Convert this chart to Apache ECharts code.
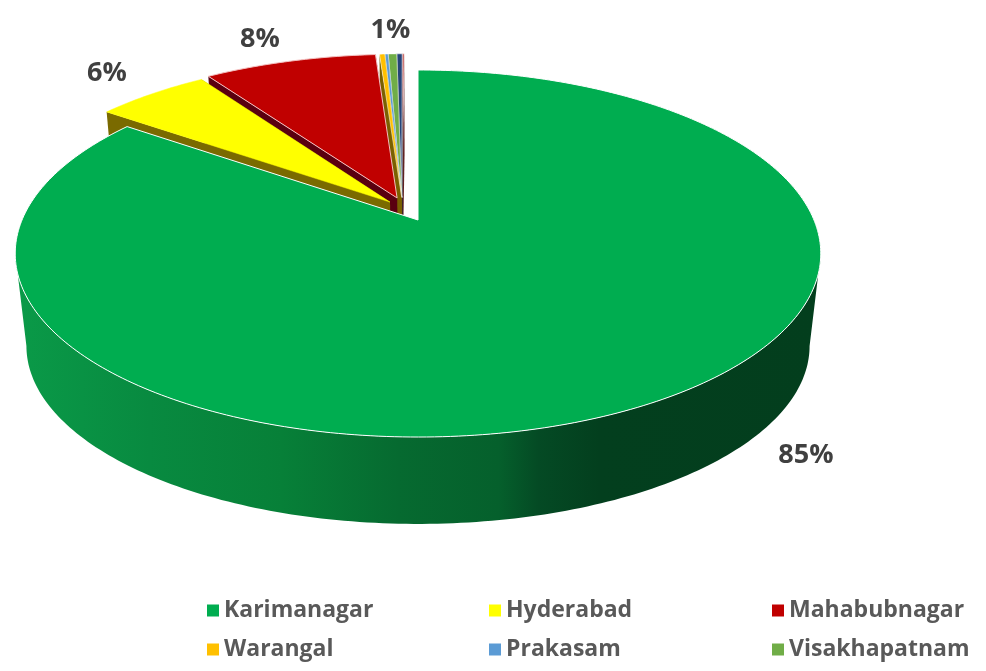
<!DOCTYPE html>
<html><head><meta charset="utf-8">
<style>html,body{margin:0;padding:0;background:#fff}#c{width:986px;height:671px}</style>
<script src="https://cdn.jsdelivr.net/npm/echarts@6/dist/echarts.min.js"></script>
</head><body><div id="c"></div>
<script>
// ---- data ----
const categories = ['Karimanagar','Hyderabad','Mahabubnagar','Warangal','Prakasam','Visakhapatnam','Other A','Other B'];
const shares     = [84.9, 5.5, 8.4, 0.26, 0.16, 0.42, 0.26, 0.10];
const shownLabels = ['85%','6%','8%','','','1%','',''];
const topColors  = ['#00AD50','#FFFF00','#C00000','#FFC000','#5B9BD5','#70AD47','#264478','#C0504D'];
const wallColors = ['#00AD50','#7A6A00','#5A0010','#7A6000','#2E4E6B','#385723','#13223C','#602020'];
const edgeColors = ['#FFFFFF','#FFFF00','#F4C0C0','#FFFFFF','#FFFFFF','#FFFFFF','#FFFFFF','#FFFFFF'];

// ---- geometry of the tilted disc ----
const CX=418, TOP_Y=220, A=396, B=177.4, P=0.1826;
const BOT_Y=313.5, BOT_A=385, BOT_B=172;
const SHIFT=[[0,0],[-0.072,0.103],[-0.054,0.127],[-0.042,0.13],[-0.042,0.13],[-0.042,0.13],[-0.042,0.13],[-0.042,0.13]];
const LABEL_OFF=[[172,47],[-45,-21],[-30,-22],[0,0],[0,0],[-2,-24],[0,0],[0,0]];
const total=shares.reduce((a,b)=>a+b,0);
const starts=[];shares.reduce((s,v,i)=>(starts[i]=s,s+v),0);
const rad=v=>v/total*Math.PI*2;
function proj(t,r,i,bottom){
  const s=SHIFT[i];
  const X=s[0]+r*Math.sin(t), Y=s[1]+r*Math.cos(t), w=1+P*Y;
  return bottom?[CX+BOT_A*X/w,BOT_Y-BOT_B*Y/w]:[CX+A*X/w,TOP_Y-B*Y/w];
}
function rim(a,b,i,bottom){
  const n=Math.max(4,Math.ceil((b-a)*60)),pts=[];
  for(let k=0;k<=n;k++)pts.push(proj(a+(b-a)*k/n,1,i,bottom));
  return pts;
}
function renderSlice(params,api){
  const i=params.seriesIndex;
  const a=rad(starts[i]), b=a+rad(api.value(0));
  const top=rim(a,b,i,false), bot=rim(a,b,i,true);
  const apexT=proj(0,0,i,false), apexB=proj(0,0,i,true);
  const kids=[];
  if(i===0){
    // the visible front wall runs between the two points where the disc is widest
    const f=Math.acos(-P), g=2*Math.PI-f;
    const wallTop=rim(f,g,i,false), wallBot=rim(f,g,i,true);
    kids.push({type:'polygon',shape:{points:wallTop.concat(wallBot.reverse())},
      style:{fill:new echarts.graphic.LinearGradient(0,0,1,0,[
        {offset:0,color:'#0A9A48'},{offset:0.167,color:'#088A40'},{offset:0.33,color:'#078038'},
        {offset:0.477,color:'#066A30'},{offset:0.6,color:'#05602C'},{offset:0.65,color:'#044A24'},
        {offset:0.725,color:'#033F1E'},{offset:1,color:'#033E1D'}])}});
  } else {
    const L=top[top.length-1], LB=bot[bot.length-1], R=top[0], RB=bot[0];
    kids.push({type:'polygon',shape:{points:[apexT,L,LB,apexB]},style:{fill:wallColors[i]}});
    kids.push({type:'polygon',shape:{points:[apexT,R,RB,apexB]},style:{fill:wallColors[i]}});
  }
  kids.push({type:'polygon',shape:{points:[apexT].concat(top)},
    style:{fill:topColors[i],stroke:edgeColors[i],lineWidth:i===0||i===2?1:0.5}});
  if(shownLabels[i]){
    const mid=proj(a+(b-a)/2,1,i,false), o=LABEL_OFF[i];
    kids.push({type:'text',style:{text:shownLabels[i],x:mid[0]+o[0],y:mid[1]+o[1],
      align:'center',verticalAlign:'middle',fill:'#404040',
      font:'bold 27px "Open Sans", sans-serif'}});
  }
  return {type:'group',children:kids};
}
const legendBase={orient:'vertical',top:594,itemWidth:12,itemHeight:12,itemGap:16,icon:'rect',
  textStyle:{color:'#595959',fontSize:23,fontWeight:'bold',fontFamily:'"Open Sans", sans-serif'}};
const zOf=[8,7,6,5,4,3,2,1];
const chart=echarts.init(document.getElementById('c'));
chart.setOption({
  backgroundColor:'#fff',animation:false,
  legend:[
    Object.assign({},legendBase,{left:202,data:[categories[0],categories[3]]}),
    Object.assign({},legendBase,{left:484,data:[categories[1],categories[4]]}),
    Object.assign({},legendBase,{left:767,data:[categories[2],categories[5]]})
  ],
  series:categories.map((name,i)=>({
    type:'custom',name,coordinateSystem:'none',silent:true,z:zOf[i],
    itemStyle:{color:topColors[i]},
    data:[[shares[i]]],renderItem:renderSlice
  }))
});
</script></body></html>
